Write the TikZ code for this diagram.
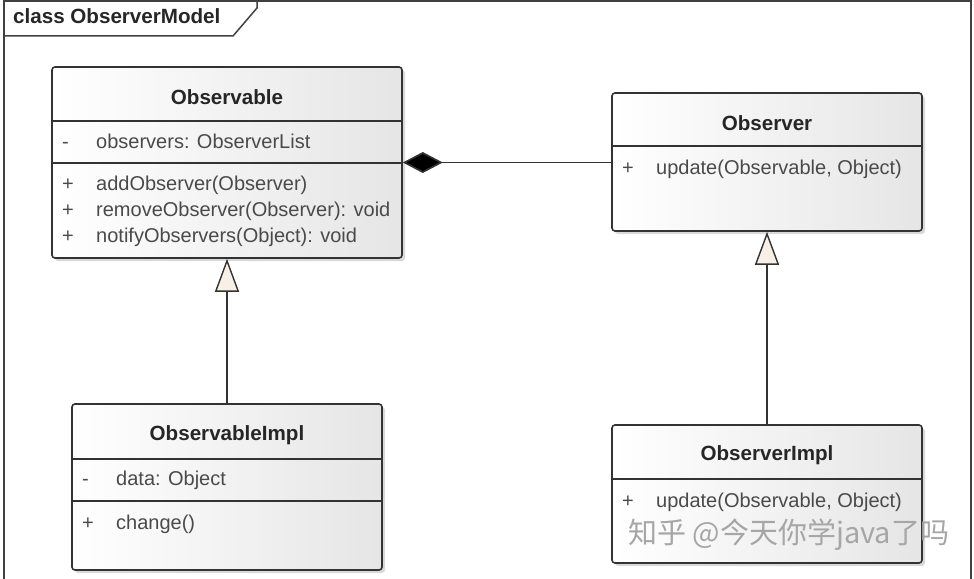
\documentclass[tikz,border=0pt]{standalone}
\usepackage{fontspec}
\setmainfont{Liberation Sans}
\newfontfamily\cjk{Noto Sans CJK SC}
\usepackage{tikz}
\usetikzlibrary{arrows.meta, positioning, shadows}
\definecolor{triFill}{HTML}{F7F0E6}
\definecolor{txtGray}{HTML}{4A4A4A}

\begin{document}
\begin{tikzpicture}[
    x=1pt, y=-1pt,
    classbox/.style={rectangle, rounded corners=3pt, draw=black!80, line width=1.6pt, left color=white, right color=black!10, drop shadow={shadow xshift=3pt, shadow yshift=-3pt, opacity=0.3}},
    title/.style={font=\fontsize{20.6}{24}\selectfont\bfseries, text=black!85, inner sep=0pt},
    member/.style={font=\fontsize{20}{24}\selectfont, text=txtGray, anchor=base west, inner sep=0pt},
    divider/.style={line width=1.6pt, draw=black!80},
    frame/.style={line width=1.5pt, draw=black!75},
    comp/.style={line width=1.6pt, draw=black!80, {Diamond[length=40pt, width=21pt, fill=black]}-},
    inherit/.style={line width=1.6pt, draw=black!80, -{Triangle[length=33pt, width=24pt, fill=triFill, line width=1.4pt]}}
]
    \useasboundingbox (0,0) rectangle (974,578);

    \draw [frame] (4,600) -- (4,1) -- (971,1) -- (971,600);
    \draw [frame] (4,36) -- (233,36) -- (257,8) -- (257,1);
    \node (frameT) [title, anchor=base west] at (13,24) {class ObserverModel};

    \node (obs) [classbox, minimum width=350pt, minimum height=191pt] at (227,162.5) {};
    \node (obsr) [classbox, minimum width=310pt, minimum height=138pt] at (767,162) {};
    \node (obsimpl) [classbox, minimum width=310pt, minimum height=166pt] at (227,487) {};
    \node (obsrimpl) [classbox, minimum width=310pt, minimum height=138pt] at (767,494) {};

    \node (obsT) [title] at (obs.north |- 0,97) {Observable};
    \draw [divider] (obs.west |- 0,121) -- (obs.east |- 0,121);
    \draw [divider] (obs.west |- 0,163) -- (obs.east |- 0,163);
    \node (obsA0) [member] at (62,148) {-};
    \node (obsA1) [member] at (96,148) {observers: ObserverList};
    \node (obsM0) [member] at (62,190) {+};
    \node (obsM1) [member] at (96,190) {addObserver(Observer)};
    \node (obsM2) [member] at (62,216) {+};
    \node (obsM3) [member] at (96,216) {removeObserver(Observer): void};
    \node (obsM4) [member] at (62,242) {+};
    \node (obsM5) [member] at (96,242) {notifyObservers(Object): void};

    \node (obsrT) [title] at (obsr.north |- 0,123) {Observer};
    \draw [divider] (obsr.west |- 0,146) -- (obsr.east |- 0,146);
    \node (obsrM0) [member] at (622,174) {+};
    \node (obsrM1) [member] at (656,174) {update(Observable, Object)};

    \node (obsimplT) [title] at (obsimpl.north |- 0,435) {ObservableImpl};
    \draw [divider] (obsimpl.west |- 0,459) -- (obsimpl.east |- 0,459);
    \draw [divider] (obsimpl.west |- 0,501) -- (obsimpl.east |- 0,501);
    \node (obsimplA0) [member] at (82,485) {-};
    \node (obsimplA1) [member] at (116,485) {data: Object};
    \node (obsimplM0) [member] at (82,529) {+};
    \node (obsimplM1) [member] at (116,529) {change()};

    \node (obsrimplT) [title] at (obsrimpl.north |- 0,455) {ObserverImpl};
    \draw [divider] (obsrimpl.west |- 0,479) -- (obsrimpl.east |- 0,479);
    \node (obsrimplM0) [member] at (622,507) {+};
    \node (obsrimplM1) [member] at (656,507) {update(Observable, Object)};

    \draw [comp] (obs.east) -- (obs.east -| obsr.west);
    \draw [inherit] (obsimpl.north) -- (obs.south);
    \draw [inherit] (obsrimpl.north) -- (obsr.south);

    \node (mark) [font=\cjk\fontsize{29}{31}\selectfont, text=black!35, anchor=west, inner sep=0pt] at (628,535) {知乎 @今天你学java了吗};
\end{tikzpicture}
\end{document}
